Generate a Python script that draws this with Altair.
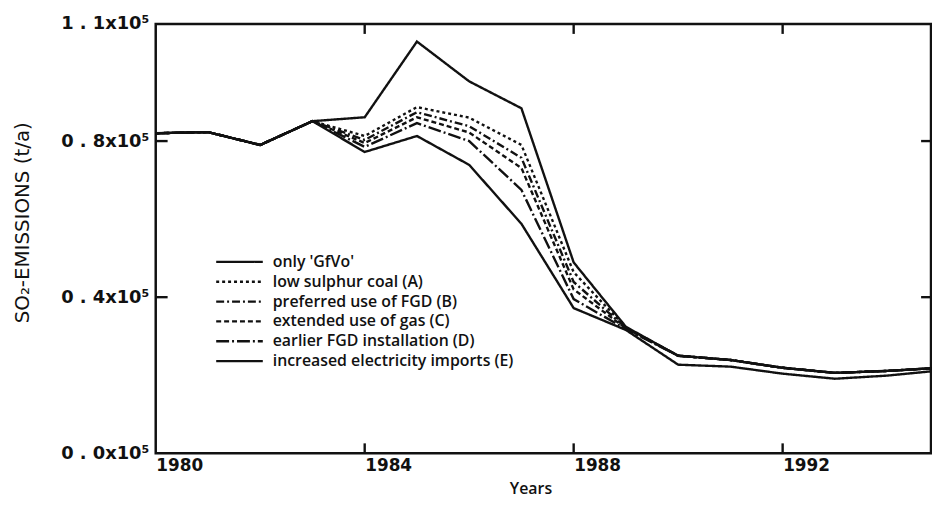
import altair as alt
import pandas as pd

years = list(range(1980, 1996))
series_names = [
    "only 'GfVo'",
    "low sulphur coal (A)",
    "preferred use of FGD (B)",
    "extended use of gas (C)",
    "earlier FGD installation (D)",
    "increased electricity imports (E)",
]
givo   = [82000, 82300, 79000, 85100, 86100, 105500, 95300, 88400, 48900, 32400, 25000, 23900, 21900, 20600, 21100, 21900]
coal_a = [82000, 82300, 79000, 85100, 81300,  88700, 86000, 79000, 46400, 32200, 25000, 23900, 21900, 20600, 21100, 21900]
fgd_b  = [82000, 82300, 79000, 85100, 80300,  87400, 83800, 75700, 43900, 32100, 25000, 23900, 21900, 20600, 21100, 21900]
gas_c  = [82000, 82300, 79000, 85100, 79500,  86100, 82200, 73100, 42000, 32000, 25000, 23900, 21900, 20600, 21100, 21900]
fgd_d  = [82000, 82300, 79000, 85100, 78500,  84600, 80000, 67500, 39500, 31800, 25000, 23900, 21900, 20600, 21100, 21900]
imp_e  = [82000, 82300, 79000, 85100, 77200,  81300, 73900, 58800, 37200, 31600, 22700, 22200, 20400, 19100, 19900, 21200]
all_series = [givo, coal_a, fgd_b, gas_c, fgd_d, imp_e]
dashes = [[1, 0], [3, 3], [8, 3, 2, 3], [5, 3], [13, 3, 2, 3], [1, 0]]

x_ticks = [1984, 1988, 1992]
y_ticks = [40000, 80000]
y_labels = {0: "0 . 0x10⁵", 40000: "0 . 4x10⁵", 80000: "0 . 8x10⁵", 110000: "1 . 1x10⁵"}

rows = []
for name, vals in zip(series_names, all_series):
    for yr, v in zip(years, vals):
        rows.append({"year": yr, "value": v, "scenario": name})
df = pd.DataFrame(rows)

W, H = 782, 433
ink = "#111111"

# legend layout (pixels inside the plot area)
LEG_X0, LEG_X1, LEG_TX, LEG_Y0, LEG_DY = 61, 108, 118, 240, 20
leg = pd.DataFrame({"scenario": series_names, "idx": list(range(len(series_names)))})

xscale = alt.Scale(domain=[1980, 1994.84], nice=False, zero=False)
yscale = alt.Scale(domain=[0, 110000], nice=False)
dash_scale = alt.Scale(domain=series_names, range=dashes)

label_expr = " : ".join(
    [f"datum.value == {k} ? '{v}'" for k, v in y_labels.items()]
) + " : ''"

lines = alt.Chart(df).mark_line(strokeWidth=2.4, color=ink, clip=True).encode(
    x=alt.X("year:Q", scale=xscale,
            axis=alt.Axis(values=[1980] + x_ticks, format="d", labelAlign="left",
                          labelFont="DejaVu Sans", labelFontWeight="bold", labelFontSize=17,
                          labelColor=ink, labelPadding=4, ticks=False, domain=False, grid=False,
                          title="Years", titleFont="Open Sans", titleFontSize=16,
                          titleFontWeight=600, titleColor=ink, titleX=378, titleY=28)),
    y=alt.Y("value:Q", scale=yscale,
            axis=alt.Axis(values=[0, 40000, 80000, 110000], labelExpr=label_expr,
                          labelFont="DejaVu Sans", labelFontWeight="bold", labelFontSize=18,
                          labelColor=ink, labelPadding=7, ticks=False, domain=False, grid=False,
                          title="SO₂-EMISSIONS (t/a)", titleFont="DejaVu Sans", titleFontSize=20,
                          titleFontWeight="normal", titleColor=ink, titleX=-124, titleY=200)),
    strokeDash=alt.StrokeDash("scenario:N", scale=dash_scale, legend=None),
)

leg_base = alt.Chart(leg).transform_calculate(
    py=f"{LEG_Y0} + datum.idx * {LEG_DY}"
)
leg_lines = leg_base.mark_rule(strokeWidth=2.4, color=ink).encode(
    x=alt.value(LEG_X0), x2=alt.value(LEG_X1),
    y=alt.Y("py:Q", scale=None),
    strokeDash=alt.StrokeDash("scenario:N", scale=dash_scale, legend=None),
)
leg_text = leg_base.mark_text(align="left", baseline="middle", font="Open Sans",
                              fontSize=16, fontWeight=600, color=ink).encode(
    x=alt.value(LEG_TX),
    y=alt.Y("py:Q", scale=None),
    text="scenario:N",
)

xt = pd.DataFrame({"year": x_ticks})
yt = pd.DataFrame({"value": y_ticks})

bottom_ticks = alt.Chart(xt).mark_rule(color=ink, strokeWidth=2.4).encode(
    x=alt.X("year:Q", scale=xscale), y=alt.value(H), y2=alt.value(H - 10))
top_ticks = alt.Chart(xt).mark_rule(color=ink, strokeWidth=2.4).encode(
    x=alt.X("year:Q", scale=xscale), y=alt.value(0), y2=alt.value(10))
left_ticks = alt.Chart(yt).mark_rule(color=ink, strokeWidth=2.4).encode(
    y=alt.Y("value:Q", scale=yscale), x=alt.value(0), x2=alt.value(12))
right_ticks = alt.Chart(yt).mark_rule(color=ink, strokeWidth=2.4).encode(
    y=alt.Y("value:Q", scale=yscale), x=alt.value(W), x2=alt.value(W - 10))

chart = alt.layer(lines, bottom_ticks, top_ticks, left_ticks, right_ticks,
                  leg_lines, leg_text).properties(
    width=W, height=H,
    padding={"left": 149, "top": 14, "right": 1, "bottom": 45},
    autosize=alt.AutoSizeParams(type="none"),
    background="white",
).configure_view(stroke=ink, strokeWidth=2.5)

chart.save("out.html", embed_options={"renderer": "svg", "actions": False})
